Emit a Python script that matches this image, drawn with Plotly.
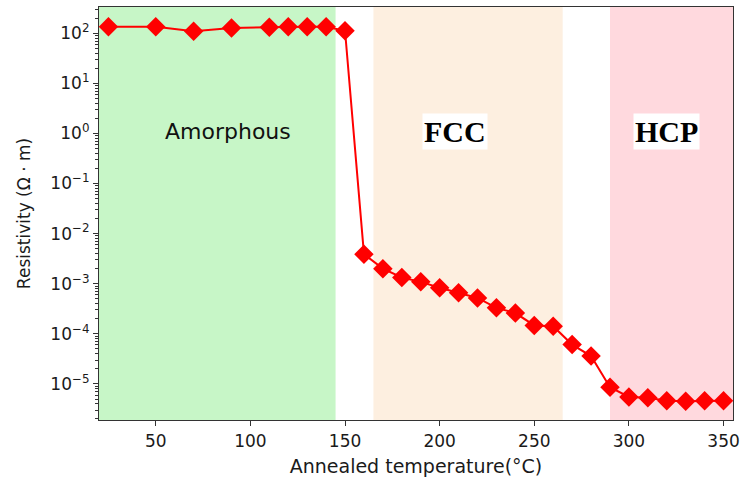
import plotly.graph_objects as go

# Annealing temperature (°C) and measured resistivity (Ω·m)
temperature = [25, 50, 70, 90, 110, 120, 130, 140, 150,
               160, 170, 180, 190, 200, 210, 220, 230, 240, 250, 260,
               270, 280, 290, 300, 310, 320, 330, 340, 350]
resistivity = [135, 135, 110, 127, 132, 135, 135, 135, 112,
               3.9e-3, 2.0e-3, 1.33e-3, 1.09e-3, 8.3e-4, 6.6e-4, 5.2e-4, 3.3e-4, 2.6e-4, 1.47e-4, 1.42e-4,
               6.1e-5, 3.6e-5, 8.6e-6, 5.5e-6, 5.3e-6, 4.6e-6, 4.5e-6, 4.6e-6, 4.6e-6]

# Phase regions (start, end, fill colour, label, label x)
phase_start = [20, 165, 290]
phase_end = [145, 265, 355]
phase_color = ["#c7f6c7", "#fdefe0", "#ffd9de"]
phase_label = ["Amorphous", "FCC", "HCP"]
phase_label_x = [88, 208, 320]

x_ticks = [50, 100, 150, 200, 250, 300, 350]
y_exponents = [2, 1, 0, -1, -2, -3, -4, -5]
y_ticktext = ["10<sup>%s</sup>" % (str(e).replace("-", "\u2212")) for e in y_exponents]
y_tickvals = [10.0 ** e for e in y_exponents]
y_minor = [k * 10.0 ** n for n in range(-6, 3) for k in range(2, 10)]

fig = go.Figure()

fig.add_trace(go.Scatter(
    x=temperature, y=resistivity, mode="lines+markers",
    line=dict(color="#ff0000", width=2),
    marker=dict(symbol="diamond", size=15, color="#ff0000"),
    showlegend=False,
))

for x0, x1, c in zip(phase_start, phase_end, phase_color):
    fig.add_shape(type="rect", xref="x", yref="paper", x0=x0, x1=x1, y0=0, y1=1,
                  fillcolor=c, line=dict(width=0), layer="below")

fig.add_annotation(x=phase_label_x[0], y=0.04, xref="x", yref="y", text=phase_label[0],
                   showarrow=False, font=dict(family="DejaVu Sans", size=22, color="#111111"))
for i in (1, 2):
    fig.add_annotation(x=phase_label_x[i], y=0.03, xref="x", yref="y",
                       text="<b>%s</b>" % phase_label[i], showarrow=False,
                       bgcolor="white", borderpad=1,
                       font=dict(family="Liberation Serif", size=30, color="#000000"))

axis_font = dict(family="DejaVu Sans", size=17, color="#1a1a1a")

fig.update_xaxes(
    range=[20, 355], tickvals=x_ticks, ticks="outside", ticklen=5, tickwidth=1,
    tickcolor="#333333", showline=True, linecolor="#333333", linewidth=1.2, mirror=True,
    showgrid=False, zeroline=False, tickfont=axis_font,
    title=dict(text="Annealed temperature(°C)", font=dict(family="DejaVu Sans", size=19, color="#1a1a1a"), standoff=10),
)
fig.update_yaxes(
    type="log", range=[-5.72, 2.524], tickvals=y_tickvals, ticktext=y_ticktext,
    ticks="outside", ticklen=5, tickwidth=1, tickcolor="#333333",
    minor=dict(tickvals=y_minor, ticks="outside", ticklen=3, tickwidth=0.8, tickcolor="#333333", showgrid=False),
    showline=True, linecolor="#333333", linewidth=1.2, mirror=True,
    showgrid=False, zeroline=False, tickfont=axis_font,
    title=dict(text="Resistivity (Ω · m)", font=dict(family="DejaVu Sans", size=17, color="#1a1a1a"), standoff=15),
)

fig.update_layout(
    width=746, height=481,
    margin=dict(l=99, r=10, t=6, b=61),
    plot_bgcolor="white", paper_bgcolor="white",
)

fig.write_html("out.html")
